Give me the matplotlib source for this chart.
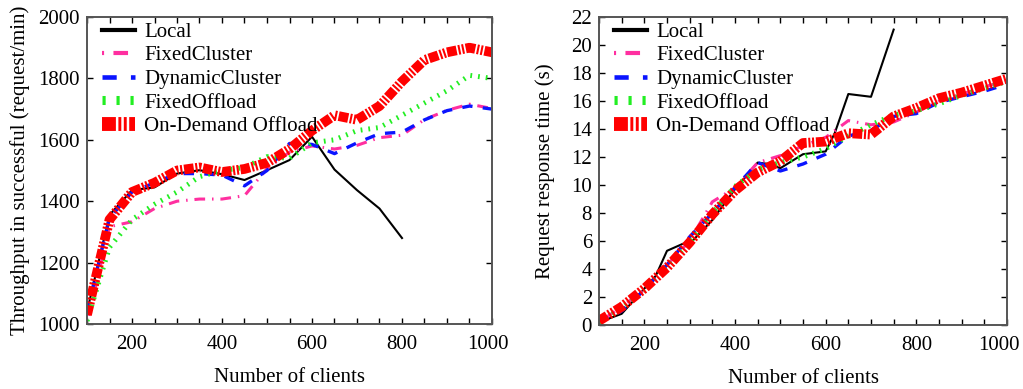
import matplotlib
matplotlib.use("Agg")
import matplotlib.pyplot as plt
from matplotlib.ticker import MultipleLocator
from matplotlib.transforms import ScaledTranslation

plt.rcParams['font.family'] = ['Liberation Serif', 'DejaVu Serif']

# number of clients
clients = [100, 150, 200, 250, 300, 350, 400, 450, 500, 550, 600,
           650, 700, 750, 800, 850, 900, 950, 1000]
local_clients = clients[:15]

# throughput (request/min)
thr_local = [1040, 1355, 1436, 1445, 1490, 1501, 1488, 1469, 1501, 1534, 1610,
             1503, 1436, 1376, 1280]
thr_fixed_cluster = [1000, 1317, 1333, 1376, 1400, 1407, 1407, 1418, 1506, 1560, 1580,
                     1570, 1582, 1607, 1615, 1666, 1696, 1716, 1702]
thr_dynamic_cluster = [1040, 1345, 1430, 1460, 1490, 1490, 1485, 1450, 1500, 1588, 1585,
                       1555, 1590, 1620, 1625, 1665, 1695, 1710, 1700]
thr_fixed_offload = [1010, 1250, 1340, 1390, 1430, 1480, 1500, 1510, 1545, 1540, 1590,
                     1600, 1630, 1640, 1680, 1720, 1760, 1810, 1800]
thr_ondemand = [1030, 1340, 1430, 1460, 1500, 1510, 1495, 1505, 1525, 1570, 1630,
                1680, 1665, 1710, 1790, 1860, 1885, 1900, 1885]

# response time (s)
rt_local_clients = [100, 150, 200, 225, 250, 285, 300, 350, 400, 450, 475, 500,
                    550, 600, 620, 650, 700, 750]
rt_local = [0.2, 0.8, 2.6, 3.5, 5.3, 5.8, 5.8, 7.5, 9.7, 11.6, 11.5, 11.2,
            12.2, 12.4, 13.7, 16.5, 16.3, 21.1]
rt_fixed_cluster = [0.2, 1.3, 2.5, 4.3, 6.0, 8.8, 9.8, 11.6, 12.1, 12.8, 13.4,
                    14.6, 14.3, 14.5, 15.2, 16.0, 16.5, 17.0, 17.5]
rt_dynamic_cluster = [0.2, 1.0, 2.5, 4.3, 6.3, 8.0, 9.8, 11.6, 11.0, 11.5, 12.2,
                      13.5, 13.9, 14.9, 15.1, 15.9, 16.3, 16.7, 17.2]
rt_fixed_offload = [0.2, 1.2, 2.5, 4.2, 5.9, 8.0, 9.9, 11.1, 11.6, 12.0, 12.6,
                    13.5, 14.3, 15.0, 15.3, 15.8, 16.4, 16.9, 17.4]
rt_ondemand = [0.3, 1.3, 2.6, 4.1, 5.9, 7.9, 9.6, 10.9, 11.7, 13.0, 13.1,
               13.7, 13.6, 14.9, 15.5, 16.2, 16.6, 17.1, 17.6]

labels = ["Local", "FixedCluster", "DynamicCluster", "FixedOffload", "On-Demand Offload"]

# style per series: color, plot lw, legend lw, dashes (in lw units)
styles = [
    ("black", 1.5, 3.0, None),
    ("#ff2fa0", 2.2, 3.0, (0.5, 2.25, 3.5, 2.25)),
    ("#0a14ff", 2.4, 3.3, (3.1, 3.1)),
    ("#22ee22", 3.6, 6.5, (0.35, 1.2)),
    ("#ff0000", 7.0, 10.0, (1.0, 0.18, 0.21, 0.18, 0.21, 0.18)),
]


def draw(ax, xs_list, ys_list):
    for (color, lw, lwl, dashes), xs, ys, lab in zip(styles, xs_list, ys_list, labels):
        line, = ax.plot(xs, ys, color=color, lw=lw, label=lab)
        if dashes is not None:
            line.set_dashes(dashes)
    leg = ax.legend(loc="upper left", frameon=False, fontsize=15,
                    handlelength=1.6, handletextpad=0.45, labelspacing=0.19,
                    borderaxespad=0.3, bbox_to_anchor=(0.0, 1.03))
    for h, (color, lw, lwl, dashes) in zip(leg.get_lines(), styles):
        h.set_linewidth(lwl)
        if dashes is not None:
            h.set_dashes(dashes)
    ax.set_xlim(100, 1000)
    ax.xaxis.set_major_locator(MultipleLocator(200))
    ax.xaxis.set_minor_locator(MultipleLocator(50))
    ax.tick_params(which="both", direction="in", top=True, right=True,
                   length=4, width=1, labelsize=15)
    ax.tick_params(axis="x", pad=8)
    ax.tick_params(axis="y", pad=5)
    for s in ax.spines.values():
        s.set_color("#555555")
        s.set_linewidth(1.4)
    ax.set_xlabel("Number of clients", fontsize=15, labelpad=10)


def shift_last_label(ax, px):
    # the 1000 label sits a little left of its tick, as in the original
    for tick in ax.xaxis.get_major_ticks():
        if abs(tick.get_loc() - 1000) < 1e-6:
            lab = tick.label1
            lab.set_transform(lab.get_transform() + ScaledTranslation(px / 100, 0, fig.dpi_scale_trans))


fig = plt.figure(figsize=(10.23, 3.89), dpi=100)
ax1 = fig.add_axes([87 / 1023, 65 / 389, 405 / 1023, 307 / 389])
ax2 = fig.add_axes([599 / 1023, 64 / 389, 408 / 1023, 308 / 389])

ax1.set_ylim(1000, 2000)
ax1.yaxis.set_major_locator(MultipleLocator(200))
ax1.set_ylabel("Throughput in successful (request/min)", fontsize=15, labelpad=6)
draw(ax1, [local_clients, clients, clients, clients, clients],
     [thr_local, thr_fixed_cluster, thr_dynamic_cluster, thr_fixed_offload, thr_ondemand])

ax2.set_ylim(0, 22)
ax2.yaxis.set_major_locator(MultipleLocator(2))
ax2.set_ylabel("Request response time (s)", fontsize=15, labelpad=12)
draw(ax2, [rt_local_clients, clients, clients, clients, clients],
     [rt_local, rt_fixed_cluster, rt_dynamic_cluster, rt_fixed_offload, rt_ondemand])

fig.canvas.draw()
shift_last_label(ax1, -4)
shift_last_label(ax2, -8)

fig.savefig("out.png", dpi=100)
